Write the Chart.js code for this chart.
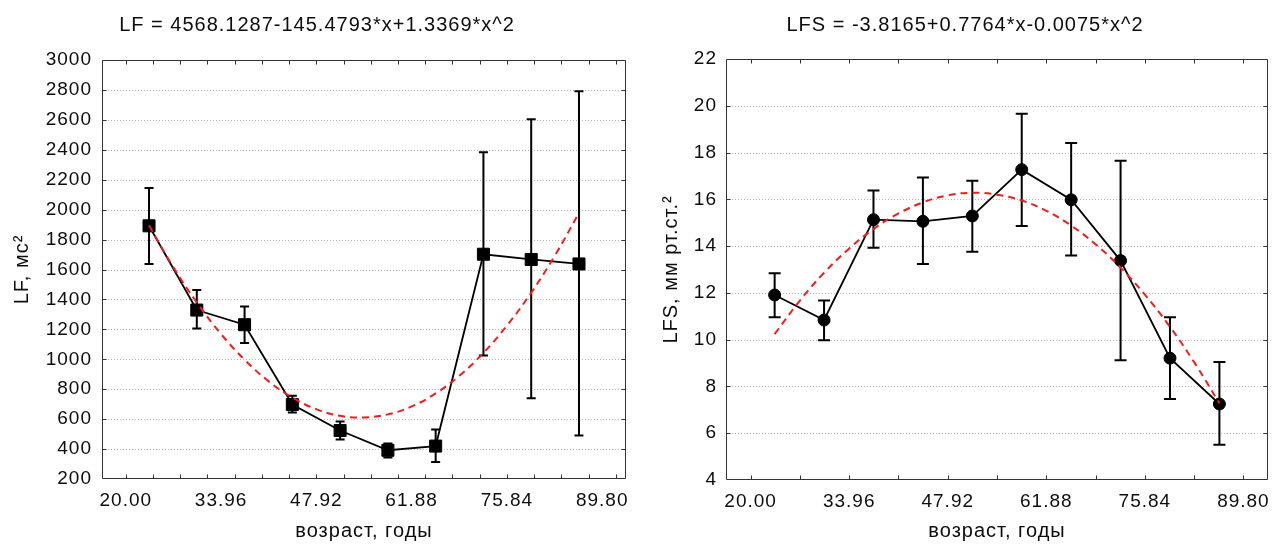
<!DOCTYPE html>
<html>
<head>
<meta charset="utf-8">
<script src="https://cdn.jsdelivr.net/npm/chart.js@4.4.1/dist/chart.umd.min.js"></script>
<style>
  html,body{margin:0;padding:0;background:#fff;}
  body{width:1280px;height:545px;overflow:hidden;position:relative;}
  #c1{position:absolute;left:0;top:0;}
  #c2{position:absolute;left:640px;top:0;}
</style>
</head>
<body>
<canvas id="c1" width="640" height="545"></canvas>
<canvas id="c2" width="640" height="545"></canvas>
<script>
// ---- data ----
const ages = [23.4, 30.4, 37.4, 44.4, 51.4, 58.4, 65.4, 72.4, 79.4, 86.4];

const lfMean  = [1892, 1329, 1231, 698, 524, 392, 420, 1702, 1667, 1637];
const lfUpper = [2145, 1463, 1352, 756, 585, 438, 531, 2383, 2604, 2791];
const lfLower = [1637, 1206, 1108, 645, 464, 344, 313, 1025, 740, 490];

const lfsMean  = [11.91, 10.84, 15.13, 15.06, 15.29, 17.27, 15.98, 13.38, 9.21, 7.25];
const lfsUpper = [12.84, 11.67, 16.38, 16.93, 16.79, 19.66, 18.41, 17.65, 10.96, 9.05];
const lfsLower = [10.96, 9.97, 13.93, 13.24, 13.76, 14.86, 13.60, 9.12, 7.46, 5.51];

const fitAges = [23.4, 26.9, 30.4, 33.9, 37.4, 40.9, 44.4, 47.9, 51.4, 54.9,
                 58.4, 61.9, 65.4, 68.9, 72.4, 75.9, 79.4, 82.9, 86.4];
const lfFit  = [1895, 1620, 1380, 1172, 997, 854, 744, 667, 622, 611,
                632, 685, 772, 891, 1043, 1228, 1445, 1695, 1978];
const lfsFit = [10.24, 11.64, 12.86, 13.88, 14.73, 15.39, 15.87, 16.17, 16.28, 16.20,
                15.95, 15.51, 14.88, 14.07, 13.08, 11.90, 10.55, 9.00, 7.28];

const xTickValues = [20.00, 33.96, 47.92, 61.88, 75.84, 89.80];
const lfTicks  = [200, 400, 600, 800, 1000, 1200, 1400, 1600, 1800, 2000, 2200, 2400, 2600, 2800, 3000];
const lfsTicks = [4, 6, 8, 10, 12, 14, 16, 18, 20, 22];

const lfTitle  = 'LF = 4568.1287-145.4793*x+1.3369*x^2';
const lfsTitle = 'LFS = -3.8165+0.7764*x-0.0075*x^2';
const xTitle   = 'возраст, годы';
const lfYTitle = 'LF, мс²';
const lfsYTitle = 'LFS, мм рт.ст.²';

// ---- styling / helpers ----
const FAMILY = '"Liberation Sans", Arial, sans-serif';
const TXT = '#0d0d0d';
const FRAME = '#333333';

const spacingPlugin = {
  id: 'spacing',
  beforeUpdate(chart) { chart.ctx.letterSpacing = '1px'; },
  beforeLayout(chart) { chart.ctx.letterSpacing = '1px'; },
  beforeDraw(chart) { chart.ctx.letterSpacing = '1px'; }
};

const framePlugin = {
  id: 'frame',
  beforeDatasetsDraw(chart, args, o) {
    const {ctx, chartArea: a, scales: {x, y}} = chart;
    ctx.save();
    // dotted horizontal grid
    ctx.strokeStyle = '#b8b8b8';
    ctx.lineWidth = 1;
    ctx.setLineDash([1, 2]);
    y.ticks.forEach(t => {
      if (t.value <= y.min || t.value >= y.max) return;
      const py = Math.round(y.getPixelForValue(t.value)) + 0.5;
      ctx.beginPath(); ctx.moveTo(a.left, py); ctx.lineTo(a.right, py); ctx.stroke();
    });
    ctx.setLineDash([]);
    // error bars
    ctx.strokeStyle = '#000';
    ctx.lineWidth = 2;
    o.xs.forEach((xv, i) => {
      const px = x.getPixelForValue(xv);
      const pu = y.getPixelForValue(o.upper[i]);
      const pl = y.getPixelForValue(o.lower[i]);
      ctx.beginPath();
      ctx.moveTo(px, pu); ctx.lineTo(px, pl);
      ctx.moveTo(px - o.cap / 2, pu); ctx.lineTo(px + o.cap / 2, pu);
      ctx.moveTo(px - o.cap / 2, pl); ctx.lineTo(px + o.cap / 2, pl);
      ctx.stroke();
    });
    ctx.restore();
  },
  afterDraw(chart, args, o) {
    const {ctx, chartArea: a, scales: {x, y}} = chart;
    ctx.save();
    ctx.strokeStyle = FRAME;
    ctx.lineWidth = 1;
    const L = Math.round(a.left) + 0.5, R = Math.round(a.right) - 0.5;
    const T = Math.round(a.top) + 0.5, B = Math.round(a.bottom) - 0.5;
    ctx.beginPath();
    ctx.rect(L, T, R - L, B - T);
    ctx.stroke();
    const len = 4;
    ctx.beginPath();
    // minor ticks on x (bottom and top, inward)
    for (let v = o.minorStart - 20 * o.minorStep; v <= x.max; v += o.minorStep) {
      if (v <= x.min) continue;
      const px = Math.round(x.getPixelForValue(v)) + 0.5;
      ctx.moveTo(px, B); ctx.lineTo(px, B - len);
      ctx.moveTo(px, T); ctx.lineTo(px, T + len);
    }
    // y ticks (left and right, inward)
    y.ticks.forEach(t => {
      if (t.value <= y.min || t.value >= y.max) return;
      const py = Math.round(y.getPixelForValue(t.value)) + 0.5;
      ctx.moveTo(L, py); ctx.lineTo(L + len, py);
      ctx.moveTo(R, py); ctx.lineTo(R - len, py);
    });
    ctx.stroke();
    ctx.restore();
  }
};

function build(canvas, cfg) {
  return new Chart(canvas, {
    type: 'line',
    data: {
      datasets: [
        {
          label: 'fit',
          data: fitAges.map((xv, i) => ({x: xv, y: cfg.fit[i]})),
          borderColor: '#f21c1c',
          borderWidth: 2,
          borderDash: [7, 5],
          pointRadius: 0,
          tension: 0.4,
          fill: false,
          order: 0
        },
        {
          label: 'mean',
          data: ages.map((xv, i) => ({x: xv, y: cfg.mean[i]})),
          borderColor: '#000',
          borderWidth: 1.8,
          pointStyle: cfg.pointStyle,
          pointRadius: cfg.pointRadius,
          pointBorderWidth: 1,
          pointBackgroundColor: '#000',
          pointBorderColor: '#000',
          tension: 0,
          fill: false,
          order: 1
        }
      ]
    },
    plugins: [spacingPlugin, framePlugin],
    options: {
      responsive: false,
      animation: false,
      devicePixelRatio: 1,
      events: [],
      layout: {padding: {left: cfg.padLeft, right: cfg.padRight, top: 0, bottom: 0}},
      plugins: {
        legend: {display: false},
        tooltip: {enabled: false},
        title: {
          display: true,
          text: cfg.title,
          color: TXT,
          font: {family: FAMILY, size: 20, weight: 'normal', lineHeight: 1.2},
          padding: {top: 13.5, bottom: cfg.titleBottom}
        },
        frame: {
          xs: ages, upper: cfg.upper, lower: cfg.lower, cap: cfg.cap,
          minorStep: cfg.minorStep, minorStart: 20
        }
      },
      scales: {
        x: {
          type: 'linear',
          position: 'bottom',
          min: 16.51,
          max: 93.29,
          afterBuildTicks: s => { s.ticks = xTickValues.map(v => ({value: v})); },
          afterFit: s => { s.height = cfg.xHeight; },
          ticks: {
            autoSkip: false, maxRotation: 0, minRotation: 0,
            padding: 10,
            color: TXT,
            font: {family: FAMILY, size: 19},
            callback: v => Number(v).toFixed(2)
          },
          grid: {display: false, drawTicks: false},
          border: {display: false},
          title: {
            display: true, text: xTitle, color: TXT,
            font: {family: FAMILY, size: 20, lineHeight: 1.2},
            padding: {top: 0, bottom: 1.5}
          }
        },
        y: {
          type: 'linear',
          position: 'left',
          min: cfg.yMin,
          max: cfg.yMax,
          afterBuildTicks: s => { s.ticks = cfg.yTicks.map(v => ({value: v})); },
          afterFit: s => { s.width = cfg.yWidth; },
          ticks: {
            padding: cfg.yTickPad,
            color: TXT,
            font: {family: FAMILY, size: 19},
            callback: v => String(v)
          },
          grid: {display: false, drawTicks: false},
          border: {display: false},
          title: {
            display: true, text: cfg.yTitle, color: TXT,
            font: {family: FAMILY, size: 20, lineHeight: 1.2},
            padding: {top: cfg.yTitlePad, bottom: 0}
          }
        }
      }
    }
  });
}

build(document.getElementById('c1'), {
  title: lfTitle, yTitle: lfYTitle,
  mean: lfMean, upper: lfUpper, lower: lfLower, fit: lfFit,
  yMin: 200, yMax: 3000, yTicks: lfTicks,
  pointStyle: 'rect', pointRadius: 8.5, cap: 9,
  minorStep: 13.96 / 3.5,
  padLeft: 8, padRight: 14, yWidth: 94, yTickPad: 10, yTitlePad: 2.5,
  titleBottom: 22.5, xHeight: 66
});

build(document.getElementById('c2'), {
  title: lfsTitle, yTitle: lfsYTitle,
  mean: lfsMean, upper: lfsUpper, lower: lfsLower, fit: lfsFit,
  yMin: 4, yMax: 22, yTicks: lfsTicks,
  pointStyle: 'circle', pointRadius: 6, cap: 12,
  minorStep: 13.96 / 2,
  padLeft: 14, padRight: 4, yWidth: 72, yTickPad: 9, yTitlePad: 5.7,
  titleBottom: 21.5, xHeight: 65
});
</script>
</body>
</html>
